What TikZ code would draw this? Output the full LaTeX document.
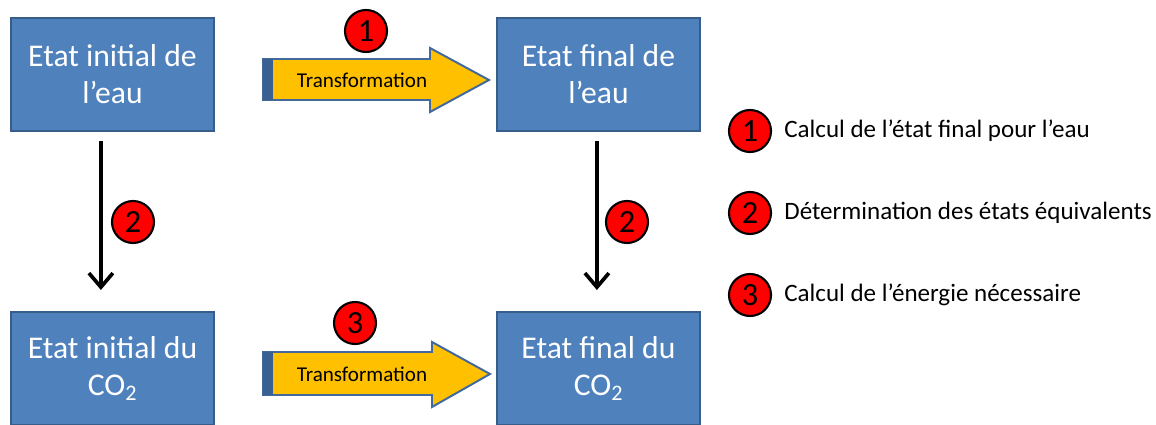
\documentclass[tikz,border=0pt]{standalone}
\usepackage{fontspec}
\setmainfont{Carlito}
\usetikzlibrary{arrows.meta,positioning}

\definecolor{boxblue}{HTML}{4F81BD}
\definecolor{boxedge}{HTML}{385D8A}
\definecolor{arrowgold}{HTML}{FFC000}
\definecolor{arrowedge}{HTML}{41699C}
\definecolor{stripblue}{HTML}{3A5F93}

\begin{document}
\begin{tikzpicture}[
    x=0.025cm, y=-0.025cm,
    state/.style={draw=boxedge, fill=boxblue, line width=1.4pt, text=white, align=center,
      minimum width=5.075cm, minimum height=2.825cm, font=\fontsize{22.5}{26.5}\selectfont},
    num/.style={circle, draw=black, fill=red, line width=1.5pt, minimum size=1.05cm, inner sep=0pt,
      font=\fontsize{23}{23}\selectfont},
    legend/.style={inner sep=0pt, anchor=west, font=\fontsize{17.8}{20}\selectfont},
    flow/.style={line width=2.6pt, -{Straight Barb[length=10pt, width=17pt, line width=2.6pt]},
      shorten <=0.225cm, shorten >=0.525cm},
    blockarrow/.style={draw=arrowedge, fill=arrowgold, line width=1.4pt, line join=miter},
  ]
    \useasboundingbox (0,0) rectangle (1156,425);

    % etats
    \node[state] (ei) at (112.5,74.5) {Etat initial de\\l’eau};
    \node[state] (ef) at (598.5,74.5) {Etat final de\\l’eau};
    \node[state] (ci) at (112.5,368.5) {Etat initial du\\CO\textsubscript{2}};
    \node[state] (cf) at (598.5,368.5) {Etat final du\\CO\textsubscript{2}};

    % transformations
    \draw[blockarrow] (263,59) -- (430,59) -- (430,48) -- (489,80) -- (430,112) -- (430,100) -- (263,100) -- cycle;
    \fill[stripblue] (263,59) rectangle (273,100);
    \node[font=\fontsize{15}{17}\selectfont] (t1) at (362,80) {Transformation};
    \draw[blockarrow] (263,352) -- (432,352) -- (432,342) -- (490,374) -- (432,407) -- (432,395) -- (263,395) -- cycle;
    \fill[stripblue] (263,352) rectangle (273,395);
    \node[font=\fontsize{15}{17}\selectfont] (t2) at (362,374) {Transformation};

    % equivalences
    \draw[flow] ([xshift=-0.29cm]ei.south) -- ([xshift=-0.29cm]ci.north);
    \draw[flow] ([xshift=-0.04cm]ef.south) -- ([xshift=-0.04cm]cf.north);

    % numeros
    \node[num] (n1) at (366,31) {1};
    \node[num] (n2a) at (133,222) {2};
    \node[num] (n2b) at (627,222) {2};
    \node[num] (n3) at (355,323) {3};

    % legende
    \node[num] (l1) at (750,131) {1};
    \node[num] (l2) at (750,213) {2};
    \node[num] (l3) at (750,295) {3};
    \node[legend, right=0.3cm of l1] (d1) {Calcul de l’état final pour l’eau};
    \node[legend, right=0.3cm of l2] (d2) {Détermination des états équivalents};
    \node[legend, right=0.3cm of l3] (d3) {Calcul de l’énergie nécessaire};
\end{tikzpicture}
\end{document}
